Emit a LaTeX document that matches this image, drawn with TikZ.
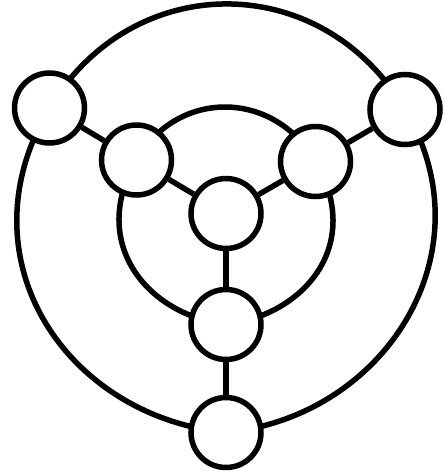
\documentclass[tikz,border=0pt]{standalone}
\usetikzlibrary{backgrounds}
\tikzset{
  vtx/.style={circle, draw, fill=white, line width=5.5pt, minimum size=70pt, inner sep=0pt},
  edge/.style={line width=5.5pt}
}
\begin{document}
\begin{tikzpicture}[x=1pt,y=-1pt]
\useasboundingbox (0,0) rectangle (445,472);
% outer nodes
\node[vtx] (tl) at (49.5,108) {};
\node[vtx] (tr) at (405,109.5) {};
\node[vtx] (bo) at (226,432.5) {};
% inner nodes
\node[vtx] (il) at (136.5,160) {};
\node[vtx] (ir) at (315.5,161.5) {};
\node[vtx] (ib) at (226,324.5) {};
% center
\node[vtx] (c) at (226,213.5) {};
\begin{scope}[on background layer]
  % outer ring
  \draw[edge] (tl.center) .. controls (132.5,-31) and (322,-31) .. (tr.center);
  \draw[edge] (tl.center) .. controls (-40.1,258.3) and (66,416.5) .. (bo.center);
  \draw[edge] (tr.center) .. controls (489.5,251.2) and (386,416.5) .. (bo.center);
  % inner ring
  \draw[edge] (il.center) .. controls (177.9,88.4) and (274.1,89.8) .. (ir.center);
  \draw[edge] (il.center) .. controls (88.5,242) and (146,314.5) .. (ib.center);
  \draw[edge] (ir.center) .. controls (363.5,243.5) and (306,314.5) .. (ib.center);
\end{scope}
% spokes
\draw[edge] (c) -- (il);
\draw[edge] (c) -- (ir);
\draw[edge] (c) -- (ib);
\draw[edge] (il) -- (tl);
\draw[edge] (ir) -- (tr);
\draw[edge] (ib) -- (bo);
\end{tikzpicture}
\end{document}
